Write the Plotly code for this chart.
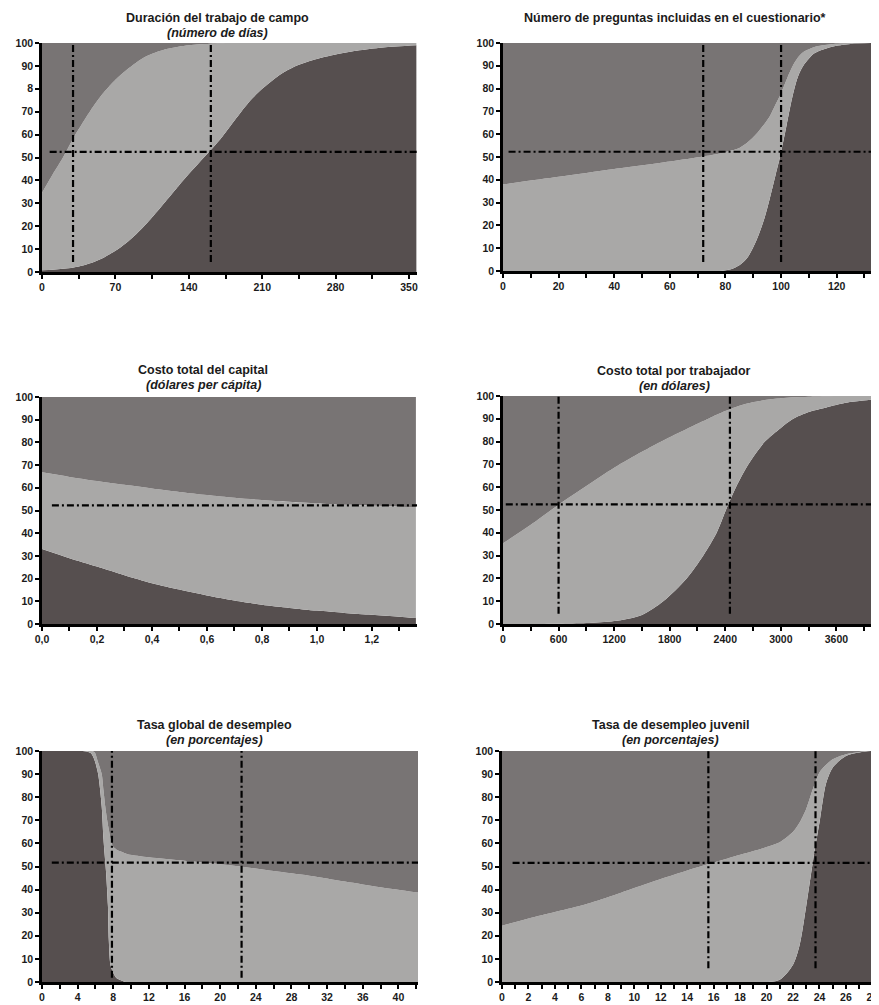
import plotly.graph_objects as go

# The page body adds an 8px margin; figure coordinates are laid out relative to that.
OFF = 8
W, H = 879 - OFF, 1005 - OFF
DARK = "#564f4f"
MID = "#787474"
LIGHT = "#a9a8a7"
FONT = "Liberation Sans"
TXT = "#1b1b1b"

# ---------------- data ----------------
# Panel 1: Duración del trabajo de campo
p1_x = [0, 10, 20, 30, 40, 50, 60, 70, 80, 90, 100, 110, 120, 130, 140, 150, 160, 170, 180, 190,
        200, 210, 225, 240, 260, 280, 300, 325, 357]
p1_upper = [34.6, 42.5, 50, 58.5, 66, 73, 79, 84, 88, 91.5, 94.3, 96.2, 97.5, 98.4, 99, 99.4, 99.7,
            99.85, 99.95, 100, 100, 100, 100, 100, 100, 100, 100, 100, 100]
p1_lower = [0.8, 1, 1.4, 2, 3, 4.5, 6.6, 9.3, 12.6, 16.6, 21.3, 26.5, 32, 37.5, 42.8, 47.8, 52.8, 58, 64, 70,
            75.5, 80, 85.5, 89.5, 92.8, 95, 96.6, 98, 99]

# Panel 2: Número de preguntas incluidas en el cuestionario
p2_x = [0, 20, 40, 60, 72, 78, 82, 85, 88, 91, 94, 96, 98, 100, 102, 104, 106, 108, 112, 118, 125, 135]
p2_upper = [38, 41.3, 44.7, 48, 50.2, 51.5, 52.8, 54, 56.5, 60, 64.5, 68, 73, 78, 84, 89.5, 93.5, 96,
            98.3, 99.5, 99.9, 100]
p2_lower = [0, 0, 0, 0, 0, 0, 0.8, 2.5, 6, 13, 23, 32, 42, 52, 64, 76, 85, 90, 95.5, 98.3, 99.6, 100]

# Panel 3: Costo total del capital
p3_x = [0, 0.1, 0.2, 0.3, 0.4, 0.5, 0.6, 0.7, 0.8, 0.9, 1.0, 1.1, 1.2, 1.3, 1.36]
p3_upper = [66.8, 64.8, 63, 61.3, 59.7, 58.2, 56.8, 55.6, 54.6, 53.8, 53.1, 52.5, 52.1, 51.7, 51.4]
p3_lower = [33, 29, 25.3, 21.5, 18, 15.2, 12.6, 10.4, 8.5, 7.1, 5.9, 4.9, 4.1, 3.2, 2.6]

# Panel 4: Costo total por trabajador
p4_x = [0, 300, 600, 900, 1200, 1500, 1730, 1983, 2163, 2307, 2407, 2515, 2648, 2828, 3000, 3133,
        3300, 3492, 3700, 3888, 4000]
p4_upper = [35.4, 43.5, 52.3, 60.5, 68.5, 75.5, 80.5, 85.5, 89, 91.8, 93.5, 95.2, 96.8, 98.2, 99, 99.4,
            99.7, 99.9, 100, 100, 100]
p4_lower = [0, 0, 0.1, 0.4, 1.3, 4, 10, 20, 30, 40, 50, 60, 70, 80, 86, 90, 93, 95, 97, 98, 98.4]

# Panel 5: Tasa global de desempleo
p5_x = [0, 4, 5, 5.5, 5.9, 6.3, 6.7, 6.9, 7.1, 7.2, 7.4, 7.5, 7.7, 8.0, 8.3, 8.7, 9.4, 9.7, 12, 16,
        20, 22.3, 26, 30, 34, 38, 42.2]
p5_upper = [100, 100, 100, 100, 99.5, 95, 90, 83, 76, 73, 68, 66, 61.7, 58.5, 57.5, 56.7, 55.6, 55.2,
            54, 52.5, 51, 50, 48, 46, 43.5, 41, 38.7]
p5_lower = [100, 100, 99.8, 99, 96, 90, 76, 62, 52, 47, 33, 18, 7, 4, 2, 1, 0, 0, 0, 0,
            0, 0, 0, 0, 0, 0, 0]

# Panel 6: Tasa de desempleo juvenil
p6_x = [0, 2, 4, 6, 8, 10, 12, 14, 16, 18, 20, 21, 22, 22.5, 23, 23.5, 24, 24.5, 25, 26, 27, 28, 29]
p6_upper = [24.4, 27.5, 30.3, 33.1, 36.7, 40.7, 44.6, 48.3, 51.7, 55.1, 58.4, 60.5, 65, 69, 75, 83.5,
            90.7, 94, 96.4, 98.6, 99.6, 100, 100]
p6_lower = [0, 0, 0, 0, 0, 0, 0, 0, 0, 0, 0, 1, 7.5, 16, 33, 52, 69, 86, 92.8, 97.8, 99.3, 100, 100]

# reference lines (horizontal level, its x start, vertical positions, vertical bottom)
p1_ref = dict(h=52.5, hx0=7.3, v=[29.6, 161], vy0=4.4)
p2_ref = dict(h=52.3, hx0=2, v=[72, 100], vy0=4)
p3_ref = dict(h=52.3, hx0=0.036, v=[], vy0=0)
p4_ref = dict(h=52.5, hx0=30, v=[600, 2450], vy0=4.5)
p5_ref = dict(h=51.7, hx0=1.1, v=[7.85, 22.4], vy0=1.8)
p6_ref = dict(h=51.6, hx0=0.8, v=[15.6, 23.7], vy0=6)

# titles
p1_title = ["Duración del trabajo de campo", "(número de días)"]
p2_title = ["Número de preguntas incluidas en el cuestionario*", None]
p3_title = ["Costo total del capital", "(dólares per cápita)"]
p4_title = ["Costo total por trabajador", "(en dólares)"]
p5_title = ["Tasa global de desempleo", "(en porcentajes)"]
p6_title = ["Tasa de desempleo juvenil", "(en porcentajes)"]

# ticks
y_vals = [0, 10, 20, 30, 40, 50, 60, 70, 80, 90, 100]
y_text_p1 = ["0", "10", "20", "30", "40", "50", "60", "70", "8", "90", "100"]
y_text = ["0", "10", "20", "30", "40", "50", "60", "70", "80", "90", "100"]

p1_xt = [0, 35, 70, 105, 140, 175, 210, 245, 280, 315, 350]
p1_xl = ["0", "", "70", "", "140", "", "210", "", "280", "", "350"]
p2_xt = [0, 10, 20, 30, 40, 50, 60, 70, 80, 90, 100, 110, 120, 130]
p2_xl = ["0", "", "20", "", "40", "", "60", "", "80", "", "100", "", "120", ""]
p3_xt = [0, 0.1, 0.2, 0.3, 0.4, 0.5, 0.6, 0.7, 0.8, 0.9, 1.0, 1.1, 1.2, 1.3]
p3_xl = ["0,0", "", "0,2", "", "0,4", "", "0,6", "", "0,8", "", "1,0", "", "1,2", ""]
p4_xt = [0, 300, 600, 900, 1200, 1500, 1800, 2100, 2400, 2700, 3000, 3300, 3600, 3900]
p4_xl = ["0", "", "600", "", "1200", "", "1800", "", "2400", "", "3000", "", "3600", ""]
p5_xt = list(range(0, 43, 2))
p5_xl = [str(v) if v % 4 == 0 else "" for v in p5_xt]
p6_xt = list(range(0, 29, 1))
p6_xl = [str(v) if v % 2 == 0 else "" for v in p6_xt]

# ---------------- layout geometry (page pixels) ----------------
panels = [
    dict(x=p1_x, up=p1_upper, lo=p1_lower, ref=p1_ref, title=p1_title, xr=[0, 357.6],
         xt=p1_xt, xl=p1_xl, yl=y_text_p1, px=(42, 417), py=(43, 272), tx=217, ty=18),
    dict(x=p2_x, up=p2_upper, lo=p2_lower, ref=p2_ref, title=p2_title, xr=[0, 134.5],
         xt=p2_xt, xl=p2_xl, yl=y_text, px=(503, 877), py=(43, 271), tx=675, ty=18),
    dict(x=p3_x, up=p3_upper, lo=p3_lower, ref=p3_ref, title=p3_title, xr=[0, 1.364],
         xt=p3_xt, xl=p3_xl, yl=y_text, px=(42, 417), py=(397, 624), tx=203, ty=370),
    dict(x=p4_x, up=p4_upper, lo=p4_lower, ref=p4_ref, title=p4_title, xr=[0, 3995],
         xt=p4_xt, xl=p4_xl, yl=y_text, px=(503, 873), py=(396, 624), tx=674, ty=371),
    dict(x=p5_x, up=p5_upper, lo=p5_lower, ref=p5_ref, title=p5_title, xr=[0, 42.2],
         xt=p5_xt, xl=p5_xl, yl=y_text, px=(42, 418), py=(751, 982), tx=214, ty=725),
    dict(x=p6_x, up=p6_upper, lo=p6_lower, ref=p6_ref, title=p6_title, xr=[0, 28.5],
         xt=p6_xt, xl=p6_xl, yl=y_text, px=(502, 879), py=(751, 982), tx=670, ty=725),
]

fig = go.Figure()
layout = dict(width=W, height=H, margin=dict(l=0, r=0, t=0, b=0, autoexpand=False), showlegend=False,
              paper_bgcolor="white", plot_bgcolor="white", template="none",
              font=dict(family=FONT, color=TXT))
annotations = []
DASH = "7px,3px,2px,3px"
TFS = 12.5

for i, p in enumerate(panels, start=1):
    xa = "x" if i == 1 else f"x{i}"
    ya = "y" if i == 1 else f"y{i}"
    top = [100] * len(p["x"])
    fig.add_trace(go.Scatter(x=p["x"], y=p["lo"], xaxis=xa, yaxis=ya, mode="lines",
                             line=dict(width=0, shape="spline", smoothing=0.8),
                             fill="tozeroy", fillcolor=DARK, hoverinfo="skip"))
    fig.add_trace(go.Scatter(x=p["x"], y=p["up"], xaxis=xa, yaxis=ya, mode="lines",
                             line=dict(width=0, shape="spline", smoothing=0.8),
                             fill="tonexty", fillcolor=LIGHT, hoverinfo="skip"))
    fig.add_trace(go.Scatter(x=p["x"], y=top, xaxis=xa, yaxis=ya, mode="lines",
                             line=dict(width=0), fill="tonexty", fillcolor=MID, hoverinfo="skip"))
    ref = p["ref"]
    fig.add_trace(go.Scatter(x=[ref["hx0"], p["xr"][1]], y=[ref["h"], ref["h"]], xaxis=xa, yaxis=ya,
                             mode="lines", line=dict(color="black", width=2.2, dash=DASH),
                             hoverinfo="skip"))
    for v in ref["v"]:
        fig.add_trace(go.Scatter(x=[v, v], y=[ref["vy0"], 100], xaxis=xa, yaxis=ya,
                                 mode="lines", line=dict(color="black", width=2.2, dash=DASH),
                                 hoverinfo="skip"))

    key_x = "xaxis" if i == 1 else f"xaxis{i}"
    key_y = "yaxis" if i == 1 else f"yaxis{i}"
    x0, x1 = p["px"][0] - OFF, min(p["px"][1] - OFF, W)
    y0, y1 = p["py"][0] - OFF, p["py"][1] - OFF
    common = dict(showgrid=False, zeroline=False, showline=True, linecolor="black", linewidth=2.5,
                  ticks="outside", ticklen=4, tickwidth=2, tickcolor="black", automargin=False,
                  ticklabeloverflow="allow",
                  tickfont=dict(family=FONT, size=10.5, color=TXT), fixedrange=True)
    layout[key_x] = dict(domain=[x0 / W, x1 / W], anchor=ya, range=p["xr"],
                         tickmode="array", tickvals=p["xt"],
                         ticktext=[f"<b>{t}</b>" if t else "" for t in p["xl"]], **common)
    layout[key_y] = dict(domain=[1 - y1 / H, 1 - y0 / H], anchor=xa, range=[0, 100],
                         tickmode="array", tickvals=y_vals,
                         ticktext=[f"<b>{t}</b>" for t in p["yl"]], **common)
    t1, t2 = p["title"]
    tx = (p["tx"] - OFF) / W
    annotations.append(dict(x=tx, y=1 - (p["ty"] - OFF) / H, xref="paper", yref="paper",
                            text=f"<b>{t1}</b>", showarrow=False, xanchor="center", yanchor="middle",
                            font=dict(family=FONT, size=TFS, color=TXT)))
    if t2:
        annotations.append(dict(x=tx, y=1 - (p["ty"] + 15 - OFF) / H, xref="paper", yref="paper",
                                text=f"<b><i>{t2}</i></b>", showarrow=False, xanchor="center",
                                yanchor="middle", font=dict(family=FONT, size=TFS, color=TXT)))

layout["annotations"] = annotations
fig.update_layout(**layout)
fig.write_html("out.html")
